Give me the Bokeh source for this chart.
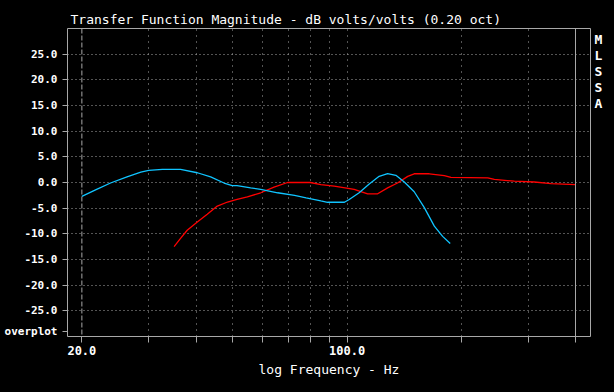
from bokeh.plotting import figure
from bokeh.models import (FixedTicker, Span, Range1d, NumeralTickFormatter,
                          GlobalInlineStyleSheet, LinearAxis)
from bokeh.embed import file_html
from bokeh.resources import INLINE

# ---- data ----
blue_freq = [20.0, 21.8, 23.8, 26.3, 28.6, 30.0, 32.6, 36.4, 40.3, 43.7, 47.4, 49.8,
             51.3, 55.7, 59.2, 65.6, 72.7, 78.0, 85.3, 88.8, 98.4, 101.3, 107.6,
             114.4, 121.5, 127.9, 134.5, 141.5, 150.3, 159.8, 169.8, 178.6, 187.0]
blue_db = [-2.7, -1.4, -0.1, 1.1, 2.0, 2.35, 2.55, 2.55, 1.9, 1.1, -0.1, -0.6,
           -0.6, -1.05, -1.35, -2.0, -2.5, -3.0, -3.6, -3.85, -3.85, -3.3, -2.0,
           -0.3, 1.2, 1.75, 1.4, 0.1, -1.8, -4.9, -8.5, -10.5, -11.9]

red_freq = [35.0, 36.4, 37.9, 40.3, 42.8, 45.5, 48.4, 51.3, 54.6, 59.2, 64.2, 69.7,
            80.0, 85.3, 92.5, 104.4, 113.3, 120.4, 127.9, 135.8, 144.5, 150.3,
            164.7, 180.4, 187.8, 234.9, 244.4, 276.0, 311.6, 345.0, 400.0]
red_db = [-12.5, -10.9, -9.3, -7.7, -6.2, -4.6, -3.8, -3.3, -2.8, -2.0, -0.9, 0.0,
          0.0, -0.4, -0.7, -1.35, -2.2, -2.2, -1.05, -0.1, 1.2, 1.7,
          1.7, 1.35, 1.0, 0.9, 0.6, 0.25, 0.1, -0.2, -0.4]

y_ticks = [-25, -20, -15, -10, -5, 0, 5, 10, 15, 20, 25]
x_ticks = [20, 30, 40, 50, 60, 70, 80, 90, 100, 200, 300, 400]
x_tick_labels = {20: "20.0", 100: "100.0"}
side_letters = ["M", "L", "S", "S", "A"]
corner_text = "overplot"
corner_pos = -29.1   # level (dB) at which the corner note sits

GRAY = "#a8a8a8"
FONT = "DejaVu Sans Mono"

p = figure(width=614, height=392, x_axis_type="log",
           x_range=Range1d(18.33, 438.1), y_range=Range1d(-30, 30),
           output_backend="svg", toolbar_location=None,
           background_fill_color="black", border_fill_color="black",
           min_border_left=67, min_border_right=24,
           min_border_top=28, min_border_bottom=56)
p.stylesheets = [GlobalInlineStyleSheet(
    css="html, body {margin:0; padding:0; background:#000; overflow:hidden;}")]

p.outline_line_color = GRAY
p.outline_line_width = 1

# title
p.title.text = "Transfer Function Magnitude - dB volts/volts (0.20 oct)"
p.title.text_color = "white"
p.title.text_font = FONT
p.title.text_font_size = "13px"
p.title.text_font_style = "normal"
p.title.align = "left"
p.title.offset = 3
p.title.standoff = 4

# y axis (numeric labels plus the "overplot" corner note)
ya = p.yaxis[0]
ya.ticker = FixedTicker(ticks=y_ticks + [corner_pos])
ya.formatter = NumeralTickFormatter(format="0.0")
ya.major_label_overrides = {corner_pos: corner_text}
ya.axis_line_color = None
ya.major_tick_line_color = GRAY
ya.major_tick_out = 5
ya.major_tick_in = 0
ya.minor_tick_line_color = None
ya.major_label_standoff = 5
ya.major_label_text_color = "white"
ya.major_label_text_font = FONT
ya.major_label_text_font_style = "bold"
ya.major_label_text_font_size = "11px"

# x axis
xa = p.xaxis[0]
xa.ticker = FixedTicker(ticks=x_ticks)
xa.major_label_overrides = {t: x_tick_labels.get(t, "") for t in x_ticks}
xa.axis_line_color = None
xa.major_tick_line_color = GRAY
xa.major_tick_out = 6
xa.major_tick_in = 0
xa.minor_tick_line_color = None
xa.major_label_standoff = 3
xa.major_label_text_color = "white"
xa.major_label_text_font = FONT
xa.major_label_text_font_style = "bold"
xa.major_label_text_font_size = "12px"
xa.axis_label = "log Frequency - Hz"
xa.axis_label_text_color = "white"
xa.axis_label_text_font = FONT
xa.axis_label_text_font_style = "normal"
xa.axis_label_text_font_size = "13px"
xa.axis_label_standoff = 4

# grids
p.ygrid.ticker = FixedTicker(ticks=y_ticks)
p.ygrid.grid_line_color = GRAY
p.ygrid.grid_line_dash = "1 3"
p.xgrid.ticker = FixedTicker(ticks=x_ticks[1:])
p.xgrid.grid_line_color = GRAY
p.xgrid.grid_line_dash = "1 5"

p.add_layout(Span(location=x_ticks[0], dimension="height", line_color=GRAY,
                  line_dash="5 2", line_width=1))
p.add_layout(Span(location=x_ticks[-1], dimension="height", line_color=GRAY,
                  line_width=1))

# curves
p.line(red_freq, red_db, line_color="#ff0000", line_width=1.3)
p.line(blue_freq, blue_db, line_color="#10c4ff", line_width=1.3)

# vertical "MLSSA" stamp on the right, as labels of an extra axis
n = len(side_letters)
p.extra_y_ranges = {"side": Range1d(-18.5625, 0.6875)}
side_ax = LinearAxis(y_range_name="side",
                     ticker=FixedTicker(ticks=[-i for i in range(n)]),
                     major_label_overrides={-i: ch for i, ch in enumerate(side_letters)})
side_ax.axis_line_color = None
side_ax.major_tick_line_color = None
side_ax.minor_tick_line_color = None
side_ax.major_tick_out = 0
side_ax.major_tick_in = 0
side_ax.major_label_standoff = 4
side_ax.major_label_text_color = "white"
side_ax.major_label_text_font = FONT
side_ax.major_label_text_font_style = "bold"
side_ax.major_label_text_font_size = "13px"
p.add_layout(side_ax, "right")

open("out.html", "w").write(file_html(p, INLINE))
